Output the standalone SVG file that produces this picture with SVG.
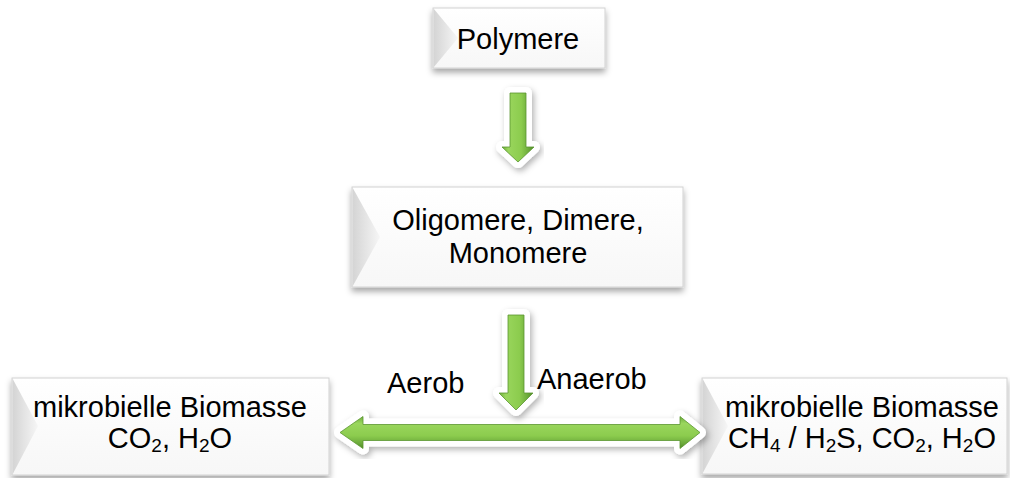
<svg xmlns="http://www.w3.org/2000/svg" width="1010" height="478" viewBox="0 0 1010 478">
  <defs>
    <filter id="boxShadow" x="-10%" y="-20%" width="120%" height="150%">
      <feDropShadow dx="0" dy="4" stdDeviation="3" flood-color="#000" flood-opacity="0.35"/>
    </filter>
    <filter id="arrowShadow" x="-30%" y="-30%" width="160%" height="160%">
      <feDropShadow dx="2" dy="3" stdDeviation="3" flood-color="#000" flood-opacity="0.3"/>
    </filter>
    <linearGradient id="boxFill" x1="0" y1="0" x2="0" y2="1">
      <stop offset="0" stop-color="#ffffff"/>
      <stop offset="1" stop-color="#f7f7f7"/>
    </linearGradient>
    <linearGradient id="bevelL" x1="0" y1="0" x2="1" y2="0">
      <stop offset="0" stop-color="#d4d4d4"/>
      <stop offset="1" stop-color="#f6f6f6"/>
    </linearGradient>
    <linearGradient id="greenV" x1="0" y1="0" x2="1" y2="0">
      <stop offset="0" stop-color="#6fae3d"/>
      <stop offset="0.2" stop-color="#9ad65d"/>
      <stop offset="0.6" stop-color="#8ccc4e"/>
      <stop offset="0.85" stop-color="#6aa83a"/>
      <stop offset="1" stop-color="#4f8a28"/>
    </linearGradient>
    <linearGradient id="greenH" x1="0" y1="0" x2="0" y2="1">
      <stop offset="0" stop-color="#6fae3d"/>
      <stop offset="0.22" stop-color="#9ad65d"/>
      <stop offset="0.6" stop-color="#8ccc4e"/>
      <stop offset="0.85" stop-color="#6aa83a"/>
      <stop offset="1" stop-color="#4f8a28"/>
    </linearGradient>
  </defs>
  <style>
    .box { fill: url(#boxFill); stroke: #d2d2d2; stroke-width: 1; filter: url(#boxShadow); }
    .bevel { fill: url(#bevelL); }
    .txt { font-family: "Liberation Sans", Arial, sans-serif; font-size: 29px; fill: #000; text-anchor: middle; }
    .lbl { font-family: "Liberation Sans", Arial, sans-serif; font-size: 29px; fill: #000; }
    .sub { font-size: 19px; }
    .outline { fill: #ffffff; stroke: #ffffff; stroke-width: 12; stroke-linejoin: round; filter: url(#arrowShadow); }
    .gv { fill: url(#greenV); stroke: #5a9630; stroke-width: 0.8; }
    .gh { fill: url(#greenH); stroke: #5a9630; stroke-width: 0.8; }
  </style>

  <g id="node-polymere">
    <rect class="box" x="433" y="8" width="172" height="60"/>
    <path class="bevel" d="M433.5,8.5 L458,38 L433.5,67.5 Z"/>
    <text class="txt" x="518" y="49">Polymere</text>
  </g>

  <g id="node-oligomere">
    <rect class="box" x="352" y="187" width="331" height="100"/>
    <path class="bevel" d="M352.5,187.5 L380,237 L352.5,286.5 Z"/>
    <text class="txt" x="518" y="230">Oligomere, Dimere,</text>
    <text class="txt" x="518" y="263">Monomere</text>
  </g>

  <g id="node-aerob">
    <rect class="box" x="12" y="378" width="317" height="97"/>
    <path class="bevel" d="M12.5,378.5 L38,426 L12.5,474.5 Z"/>
    <text class="txt" x="170" y="417">mikrobielle Biomasse</text>
    <text class="txt" x="170" y="448">CO<tspan class="sub" dy="4">2</tspan><tspan dy="-4">, H</tspan><tspan class="sub" dy="4">2</tspan><tspan dy="-4">O</tspan></text>
  </g>

  <g id="node-anaerob">
    <rect class="box" x="702" y="378" width="305" height="96"/>
    <path class="bevel" d="M702.5,378.5 L728,426 L702.5,473.5 Z"/>
    <text class="txt" x="862" y="417">mikrobielle Biomasse</text>
    <text class="txt" x="862" y="448">CH<tspan class="sub" dy="4">4</tspan><tspan dy="-4"> / H</tspan><tspan class="sub" dy="4">2</tspan><tspan dy="-4">S, CO</tspan><tspan class="sub" dy="4">2</tspan><tspan dy="-4">, H</tspan><tspan class="sub" dy="4">2</tspan><tspan dy="-4">O</tspan></text>
  </g>

  <g id="connectors">
    <g id="arrow-1">
      <path class="outline" d="M510,93 H526 V147 H534 L518,162 L502,147 H510 Z"/>
      <path class="gv" d="M510,93 H526 V147 H534 L518,162 L502,147 H510 Z"/>
    </g>
    <g id="arrow-split">
      <path class="outline" d="M340,432.5 L363,416.5 V424.5 H680 V416.5 L700,432.5 L680,448.5 V440.5 H363 V448.5 Z"/>
      <path class="gh" d="M340,432.5 L363,416.5 V424.5 H680 V416.5 L700,432.5 L680,448.5 V440.5 H363 V448.5 Z"/>
    </g>
    <g id="arrow-2">
      <path class="outline" d="M508,315 H524 V393 H533 L516,410 L499,393 H508 Z"/>
      <path class="gv" d="M508,315 H524 V393 H533 L516,410 L499,393 H508 Z"/>
    </g>
    <text class="lbl" x="387" y="393">Aerob</text>
    <text class="lbl" x="537" y="389">Anaerob</text>
  </g>
</svg>
